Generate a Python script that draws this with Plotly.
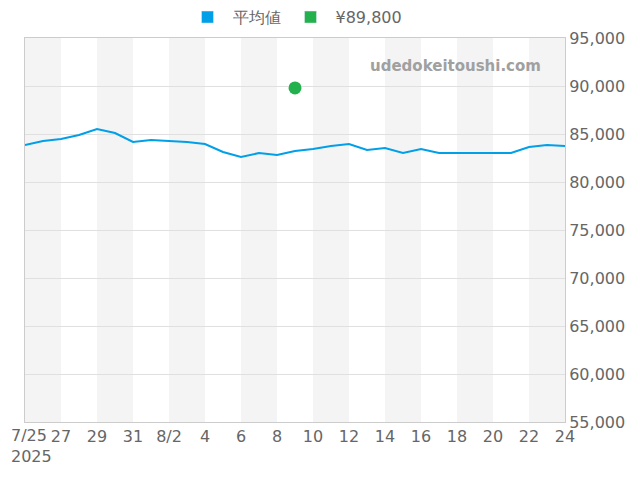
import pandas as pd
import plotly.graph_objects as go

dates = pd.date_range("2025-07-25", "2025-08-24", freq="D")
avg_price = [83850, 84270, 84480, 84900, 85520, 85100, 84170, 84380, 84270, 84170,
             83960, 83130, 82600, 83020, 82810, 83230, 83440, 83750, 83960, 83330,
             83540, 83020, 83440, 83020, 83020, 83000, 83020, 83020, 83650, 83850, 83750]
point_date = ["2025-08-09"]
point_price = [89800]

tick_vals = dates[::2]
tick_text = ["", "27", "29", "31", "8/2", "4", "6", "8", "10", "12",
             "14", "16", "18", "20", "22", "24"]

fig = go.Figure()
fig.add_trace(go.Scatter(x=dates, y=avg_price, mode="lines", showlegend=False,
                         line=dict(color="#009fe8", width=2)))
fig.add_trace(go.Scatter(x=point_date, y=point_price, mode="markers", showlegend=False,
                         marker=dict(color="#22b14c", size=13)))
# legend entries drawn as filled boxes
fig.add_trace(go.Bar(x=[dates[0]], y=[None], name="平均値", marker_color="#009fe8"))
fig.add_trace(go.Bar(x=[dates[0]], y=[None], name="¥89,800", marker_color="#22b14c"))

# alternating background bands
for i in range(0, 30, 4):
    fig.add_vrect(x0=dates[i], x1=dates[min(i + 2, 30)], fillcolor="#f4f4f4",
                  line_width=0, layer="below")

fig.add_annotation(text="<b>udedokeitoushi.com</b>", xref="paper", yref="paper",
                   x=0.96, y=0.955, showarrow=False,
                   font=dict(size=15, color="#a0a0a0", family="DejaVu Sans"),
                   xanchor="right")
# first tick label (would be clipped at the left edge otherwise)
fig.add_annotation(text="7/25<br>2025", x=dates[0], xref="x", yref="paper", y=0,
                   yanchor="top", xanchor="left", xshift=-16, yshift=-2,
                   align="left", showarrow=False, font=dict(size=16))

fig.update_layout(
    width=640, height=480,
    margin=dict(l=17, r=83, t=30, b=66, autoexpand=False),
    plot_bgcolor="white", paper_bgcolor="white",
    font=dict(family="DejaVu Sans", size=16, color="#666666"),
    legend=dict(orientation="h", x=0.5, xanchor="center", y=1.01, yanchor="bottom",
                font=dict(size=16), itemwidth=40),
    showlegend=True,
)
fig.update_xaxes(range=[dates[0], dates[-1]], tickvals=tick_vals, ticktext=tick_text,
                 showgrid=False, showline=True, linecolor="#cccccc", mirror=True,
                 ticks="", automargin=False)
fig.update_yaxes(range=[55000, 95000], dtick=5000, side="right", tickformat=",",
                 gridcolor="#e0e0e0", showline=True, linecolor="#cccccc", mirror=True,
                 automargin=False)

fig.write_html("out.html")
